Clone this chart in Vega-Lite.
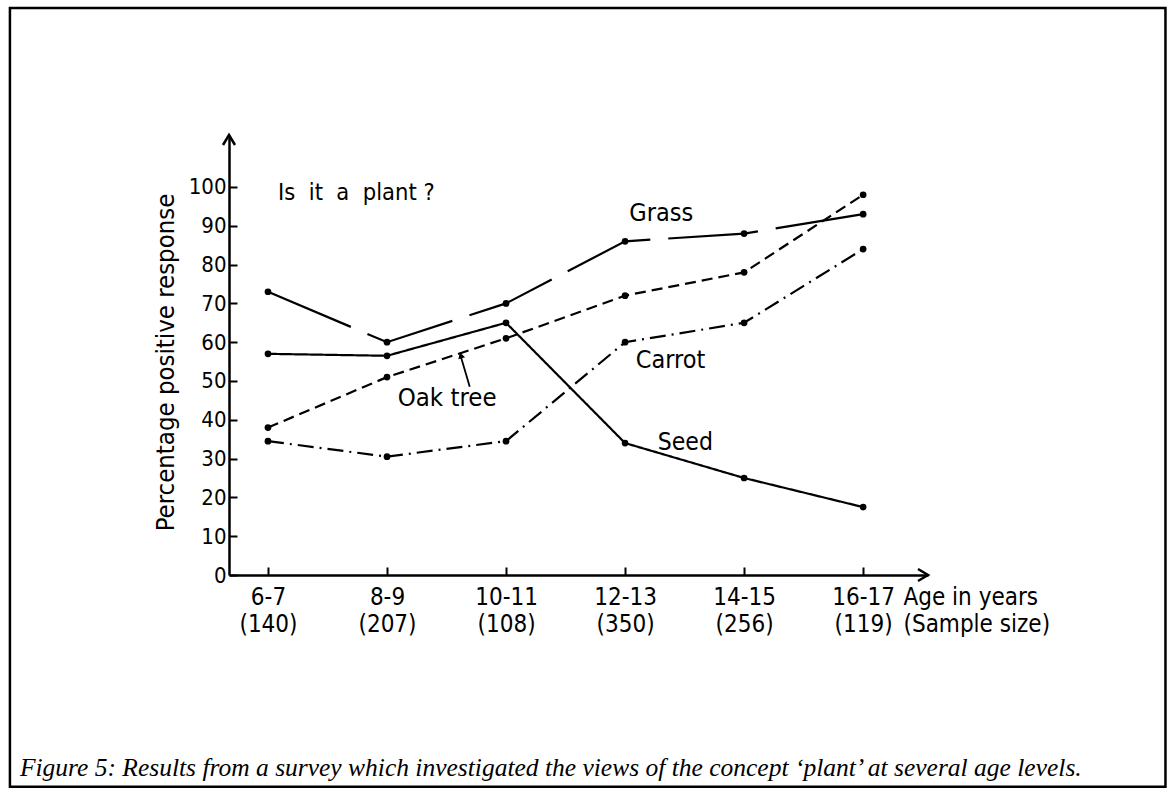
{
  "$schema": "https://vega.github.io/schema/vega-lite/v6.json",
  "width": 699,
  "height": 440,
  "autosize": "none",
  "padding": {"left": 229, "top": 135, "right": 239, "bottom": 219},
  "background": "white",
  "config": {
    "view": {"stroke": null},
    "font": "DejaVu Sans Condensed, Liberation Sans Narrow, DejaVu Sans",
    "text": {"font": "DejaVu Sans Condensed, Liberation Sans Narrow, DejaVu Sans", "color": "black"}
  },
  "datasets": {
    "survey": [
      {"series": "Grass", "age": "6-7", "age_from": 6, "value": 73},
      {"series": "Grass", "age": "8-9", "age_from": 8, "value": 60},
      {"series": "Grass", "age": "10-11", "age_from": 10, "value": 70},
      {"series": "Grass", "age": "12-13", "age_from": 12, "value": 86},
      {"series": "Grass", "age": "14-15", "age_from": 14, "value": 88},
      {"series": "Grass", "age": "16-17", "age_from": 16, "value": 93},
      {"series": "Oak tree", "age": "6-7", "age_from": 6, "value": 38},
      {"series": "Oak tree", "age": "8-9", "age_from": 8, "value": 51},
      {"series": "Oak tree", "age": "10-11", "age_from": 10, "value": 61},
      {"series": "Oak tree", "age": "12-13", "age_from": 12, "value": 72},
      {"series": "Oak tree", "age": "14-15", "age_from": 14, "value": 78},
      {"series": "Oak tree", "age": "16-17", "age_from": 16, "value": 98},
      {"series": "Seed", "age": "6-7", "age_from": 6, "value": 57},
      {"series": "Seed", "age": "8-9", "age_from": 8, "value": 56.5},
      {"series": "Seed", "age": "10-11", "age_from": 10, "value": 65},
      {"series": "Seed", "age": "12-13", "age_from": 12, "value": 34},
      {"series": "Seed", "age": "14-15", "age_from": 14, "value": 25},
      {"series": "Seed", "age": "16-17", "age_from": 16, "value": 17.5},
      {"series": "Carrot", "age": "6-7", "age_from": 6, "value": 34.5},
      {"series": "Carrot", "age": "8-9", "age_from": 8, "value": 30.5},
      {"series": "Carrot", "age": "10-11", "age_from": 10, "value": 34.5},
      {"series": "Carrot", "age": "12-13", "age_from": 12, "value": 60},
      {"series": "Carrot", "age": "14-15", "age_from": 14, "value": 65},
      {"series": "Carrot", "age": "16-17", "age_from": 16, "value": 84}
    ],
    "one": [{}]
  },
  "layer": [
    {
      "data": {"name": "survey"},
      "mark": {"type": "line", "strokeWidth": 2.2, "color": "black", "strokeCap": "butt"},
      "encoding": {
        "x": {
          "field": "age_from", "type": "quantitative",
          "scale": {"domain": [5.345, 17.09], "nice": false, "zero": false},
          "axis": {
            "values": [6, 8, 10, 12, 14, 16],
            "labelExpr": "[datum.value + '-' + (datum.value + 1), datum.value == 6 ? '(140)' : datum.value == 8 ? '(207)' : datum.value == 10 ? '(108)' : datum.value == 12 ? '(350)' : datum.value == 14 ? '(256)' : '(119)']",
            "labelFontSize": 24, "labelColor": "black", "labelPadding": 18, "labelLineHeight": 27,
            "labelFont": "DejaVu Sans Condensed, Liberation Sans Narrow, DejaVu Sans",
            "tickSize": -8, "tickWidth": 2, "tickColor": "black",
            "domainColor": "black", "domainWidth": 2.5, "grid": false,
            "title": ["Age in years", "(Sample size)"],
            "titleFont": "DejaVu Sans Condensed, Liberation Sans Narrow, DejaVu Sans",
            "titleFontSize": 24, "titleFontWeight": "normal", "titleColor": "black",
            "titleAlign": "left", "titleBaseline": "top", "titleLineHeight": 27,
            "titleX": 674, "titleY": 10, "labelOverlap": false
          }
        },
        "y": {
          "field": "value", "type": "quantitative",
          "scale": {"domain": [0, 113.4], "nice": false},
          "axis": {
            "values": [0, 10, 20, 30, 40, 50, 60, 70, 80, 90, 100],
            "labelFontSize": 22, "labelColor": "black", "labelPadding": 11,
            "labelFont": "DejaVu Sans Condensed, Liberation Sans Narrow, DejaVu Sans",
            "tickSize": -8, "tickWidth": 2, "tickColor": "black",
            "domainColor": "black", "domainWidth": 2.5, "grid": false,
            "title": "Percentage positive response",
            "titleFont": "DejaVu Sans Condensed, Liberation Sans Narrow, DejaVu Sans",
            "titleFontSize": 25.5, "titleFontWeight": "normal", "titleColor": "black",
            "titleAngle": -90, "titleAlign": "center", "titleBaseline": "middle",
            "titleX": -64, "titleY": 227
          }
        },
        "detail": {"field": "series"},
        "strokeDash": {
          "field": "series", "type": "nominal",
          "scale": {"domain": ["Grass", "Oak tree", "Seed", "Carrot"], "range": [[90, 18], [11, 6], [1, 0], [16, 6, 2, 6]]},
          "legend": null
        }
      }
    },
    {
      "data": {"name": "survey"},
      "mark": {"type": "point", "filled": true, "shape": "circle", "size": 45, "color": "black", "opacity": 1},
      "encoding": {
        "x": {"field": "age_from", "type": "quantitative"},
        "y": {"field": "value", "type": "quantitative"}
      }
    },
    {
      "data": {"name": "one"},
      "mark": {"type": "point", "shape": "M -0.6 1 L 0 0 L 0.6 1", "filled": false, "size": 400, "stroke": "black", "strokeWidth": 2.5, "opacity": 1},
      "encoding": {"x": {"datum": 5.345}, "y": {"datum": 113.4}}
    },
    {
      "data": {"name": "one"},
      "mark": {"type": "point", "shape": "M -1 -0.6 L 0 0 L -1 0.6", "filled": false, "size": 400, "stroke": "black", "strokeWidth": 2.5, "opacity": 1},
      "encoding": {"x": {"datum": 17.09}, "y": {"datum": 0}}
    },
    {
      "data": {"name": "one"},
      "mark": {"type": "rule", "color": "black", "strokeWidth": 1.8},
      "encoding": {"x": {"datum": 9.39}, "y": {"datum": 48.5}, "x2": {"datum": 9.24}, "y2": {"datum": 56.3}}
    },
    {
      "data": {"name": "one"},
      "mark": {"type": "point", "shape": "triangle-up", "filled": true, "size": 50, "color": "black", "angle": -17, "opacity": 1},
      "encoding": {"x": {"datum": 9.24}, "y": {"datum": 56.6}}
    },
    {
      "data": {"name": "one"},
      "mark": {"type": "text", "align": "left", "baseline": "alphabetic", "fontSize": 23.5},
      "encoding": {"x": {"datum": 6.17}, "y": {"datum": 96.6}, "text": {"value": "Is\u00a0 it\u00a0 a\u00a0 plant ?"}}
    },
    {
      "data": {"name": "one"},
      "mark": {"type": "text", "align": "left", "baseline": "alphabetic", "fontSize": 25},
      "encoding": {"x": {"datum": 12.07}, "y": {"datum": 91.2}, "text": {"value": "Grass"}}
    },
    {
      "data": {"name": "one"},
      "mark": {"type": "text", "align": "left", "baseline": "alphabetic", "fontSize": 25},
      "encoding": {"x": {"datum": 12.18}, "y": {"datum": 53.4}, "text": {"value": "Carrot"}}
    },
    {
      "data": {"name": "one"},
      "mark": {"type": "text", "align": "left", "baseline": "alphabetic", "fontSize": 24.5},
      "encoding": {"x": {"datum": 12.55}, "y": {"datum": 32.2}, "text": {"value": "Seed"}}
    },
    {
      "data": {"name": "one"},
      "mark": {"type": "text", "align": "left", "baseline": "alphabetic", "fontSize": 25.5},
      "encoding": {"x": {"datum": 8.18}, "y": {"datum": 43.6}, "text": {"value": "Oak tree"}}
    },
    {
      "data": {"name": "one"},
      "mark": {"type": "rect", "fill": null, "fillOpacity": 0, "stroke": "black", "strokeWidth": 2.5},
      "encoding": {"x": {"datum": 1.664}, "x2": {"datum": 21.08}, "y": {"datum": 146.1}, "y2": {"datum": -54.6}}
    },
    {
      "data": {"name": "one"},
      "mark": {"type": "text", "align": "left", "baseline": "alphabetic", "fontSize": 25.5, "font": "Liberation Serif", "fontStyle": "italic"},
      "encoding": {"x": {"datum": 1.832}, "y": {"datum": -51.8}, "text": {"value": "Figure 5: Results from a survey which investigated the views of the concept ‘plant’ at several age levels."}}
    }
  ]
}
